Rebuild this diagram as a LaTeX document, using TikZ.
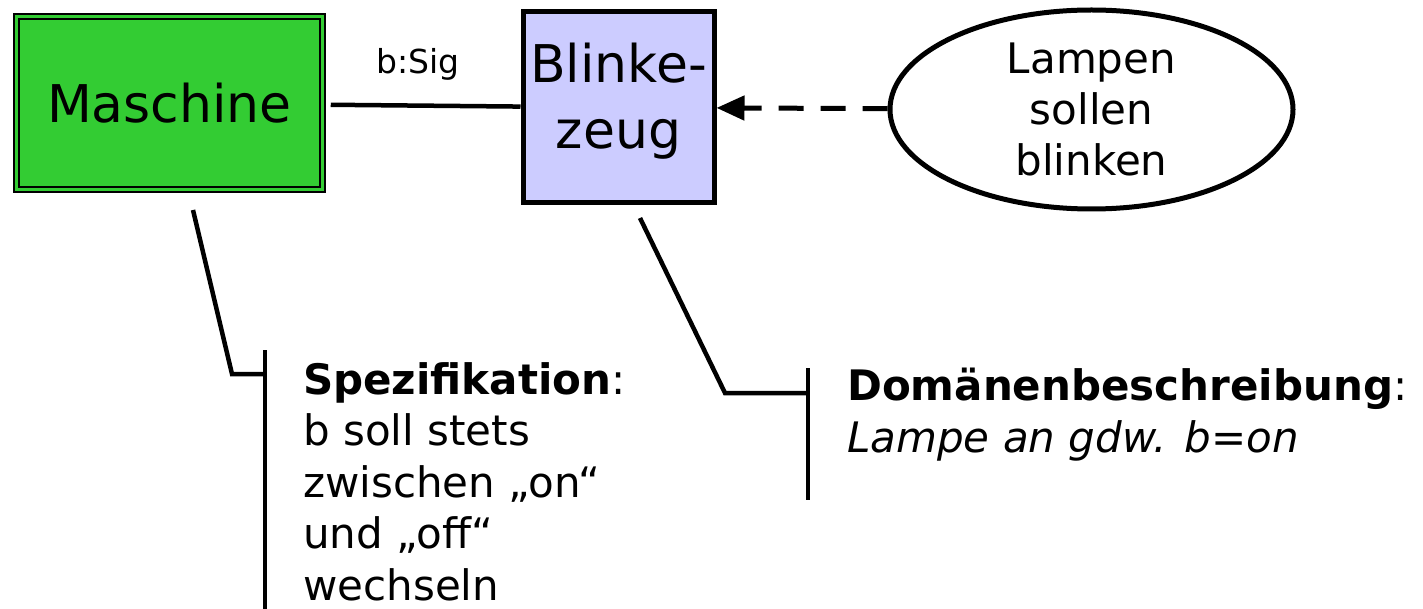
\documentclass[tikz,border=0pt]{standalone}
\usepackage{fontspec}
\setmainfont{DejaVu Sans}
\usetikzlibrary{shapes.geometric,arrows.meta}
\definecolor{maschgreen}{RGB}{51,204,51}
\definecolor{blinkblue}{RGB}{204,204,255}

\begin{document}
\begin{tikzpicture}[x=1pt,y=-1pt,
    machine/.style={draw=black, line width=1.5pt, double=maschgreen, double distance=3.5pt,
        fill=maschgreen, minimum width=306pt, minimum height=173pt, inner sep=0pt,
        font=\fontsize{52}{66}\selectfont},
    domainbox/.style={draw=black, line width=5pt, fill=blinkblue, minimum width=191pt,
        minimum height=191pt, inner sep=0pt, align=center, font=\fontsize{52}{66}\selectfont},
    goal/.style={ellipse, draw=black, line width=5pt, minimum width=403pt,
        minimum height=199pt, inner sep=0pt, align=center, font=\fontsize{42}{51}\selectfont},
    note/.style={anchor=north west, inner sep=0pt, align=left, font=\fontsize{42}{51.5}\selectfont},
    link/.style={line width=4.5pt}]
        \useasboundingbox (0,0) rectangle (1423,609);

        % Maschine, Problembereich und Anforderung
        \node[machine] (maschine) at (169.5,103.25) {Maschine};
        \node[domainbox] (blinke) at (618.5,107.5) {Blinke-\\zeug\rule[-24pt]{0pt}{0pt}};
        \node[goal] (lampen) at (1091.5,109.5) {Lampen\\sollen\\blinken};

        % Schnittstelle und Referenz
        \draw[link, shorten <=7.5pt] (maschine) -- (blinke);
        \node[anchor=base, inner sep=0pt, font=\fontsize{33}{40}\selectfont] (sig) at (418,74) {b:Sig};
        \draw[line width=5pt, dash pattern=on 25pt off 17pt,
            -{Triangle[length=28pt,width=24pt]}] (lampen) -- (blinke);

        % Spezifikation
        \coordinate (specstart) at (193,210);
        \coordinate (specknee) at (232,374);
        \coordinate (specbar) at (265,374);
        \coordinate (specbartop) at (265,350);
        \coordinate (specbarbottom) at (265,612);
        \draw[link] (specstart) -- (specknee) -- (specbar);
        \draw[link] (specbartop) -- (specbarbottom);
        \node[note] (spec) at (303,362) {\textbf{Spezifikation}:\\b soll stets\\zwischen „on“\\und „off“\\wechseln};

        % Domaenenbeschreibung
        \coordinate (domstart) at (640,218);
        \coordinate (domknee) at (725,393);
        \coordinate (dombar) at (808,393);
        \coordinate (dombartop) at (808,368);
        \coordinate (dombarbottom) at (808,500);
        \draw[link] (domstart) -- (domknee) -- (dombar);
        \draw[link] (dombartop) -- (dombarbottom);
        \node[note] (domain) at (847,368) {\textbf{Domänenbeschreibung}:\\\textit{Lampe an gdw. b=on}};
    \end{tikzpicture}
\end{document}
